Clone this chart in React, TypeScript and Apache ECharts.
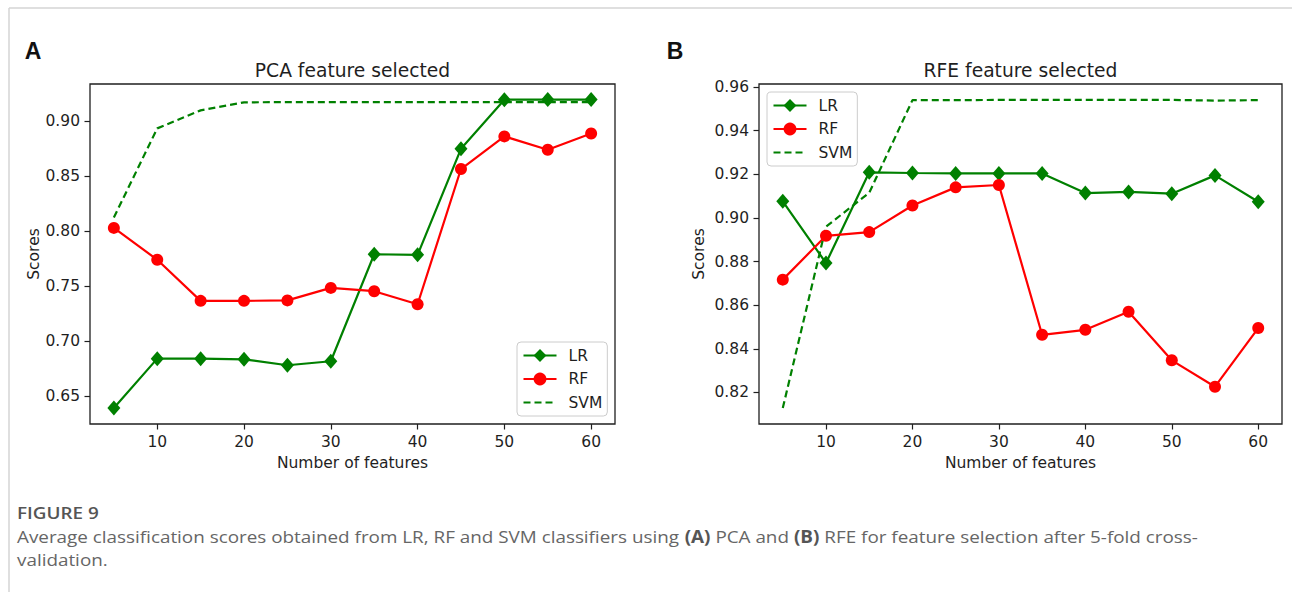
import React, { useEffect, useRef } from "react";
import * as echarts from "echarts";

const features = [5, 10, 15, 20, 25, 30, 35, 40, 45, 50, 55, 60];

const pcaLR = [0.639, 0.684, 0.684, 0.6834, 0.678, 0.6816, 0.779, 0.7785, 0.875, 0.9197, 0.9198, 0.9198];
const pcaRF = [0.803, 0.774, 0.7366, 0.7366, 0.737, 0.7484, 0.7454, 0.7335, 0.8566, 0.8863, 0.8742, 0.889];
const pcaSVM = [0.8125, 0.8936, 0.910, 0.9173, 0.9175, 0.9175, 0.9175, 0.9175, 0.9175, 0.9175, 0.9175, 0.9175];

const rfeLR = [0.9076, 0.8793, 0.9209, 0.9206, 0.9204, 0.9204, 0.9204, 0.9114, 0.9119, 0.9111, 0.9195, 0.9074];
const rfeRF = [0.8717, 0.8918, 0.8935, 0.9057, 0.914, 0.9151, 0.8464, 0.8487, 0.857, 0.8347, 0.8226, 0.8495];
const rfeSVM = [0.8128, 0.896, 0.9115, 0.954, 0.954, 0.9541, 0.9541, 0.9541, 0.9541, 0.9541, 0.9538, 0.954];

const xTicks = [10, 20, 30, 40, 50, 60];
const pcaYTicks = [0.65, 0.7, 0.75, 0.8, 0.85, 0.9];
const rfeYTicks = [0.82, 0.84, 0.86, 0.88, 0.9, 0.92, 0.94, 0.96];

const seriesNames = ["LR", "RF", "SVM"];
const panelTitles = ["PCA feature selected", "RFE feature selected"];
const xName = "Number of features";
const yName = "Scores";
const captionHead = "FIGURE 9";
const captionLine1 =
  "Average classification scores obtained from LR, RF and SVM classifiers using {b|(A)} PCA and {b|(B)} RFE for feature selection after 5-fold cross-";
const captionLine2 = "validation.";

const GREEN = "#008000";
const RED = "#ff0000";
const INK = "#1f1f1f";
const FONT = "DejaVu Sans";
const FS = 15.5;
const CAP_FS = 17;
const CAP_SX = 1.11;

function pairs(vals: number[]) {
  return features.map((x, i) => [x, vals[i]]);
}

function makeSeries(gi: number, lr: number[], rf: number[], svm: number[]) {
  return [
    {
      name: "LR",
      type: "line",
      xAxisIndex: gi,
      yAxisIndex: gi,
      data: pairs(lr),
      symbol: "diamond",
      symbolSize: [13, 15],
      itemStyle: { color: GREEN },
      lineStyle: { color: GREEN, width: 2.2 },
    },
    {
      name: "RF",
      type: "line",
      xAxisIndex: gi,
      yAxisIndex: gi,
      data: pairs(rf),
      symbol: "circle",
      symbolSize: 12,
      itemStyle: { color: RED },
      lineStyle: { color: RED, width: 2.2 },
    },
    {
      name: "SVM",
      type: "line",
      xAxisIndex: gi,
      yAxisIndex: gi,
      data: pairs(svm),
      symbol: "none",
      itemStyle: { color: GREEN },
      lineStyle: { color: GREEN, width: 2.2, type: [7, 4] },
    },
  ];
}

function makeX(gi: number) {
  return {
    type: "value",
    gridIndex: gi,
    min: 2.25,
    max: 62.75,
    axisLine: { show: false },
    axisTick: { show: true, length: 5.5, customValues: xTicks, lineStyle: { color: INK, width: 1.2 } },
    axisLabel: { customValues: xTicks, fontSize: FS, fontFamily: FONT, color: INK, margin: 10 },
    splitLine: { show: false },
    name: xName,
    nameLocation: "middle",
    nameGap: 31,
    nameTextStyle: { fontSize: FS, fontFamily: FONT, color: INK },
  };
}

function makeY(gi: number, min: number, max: number, ticks: number[], gap: number) {
  return {
    type: "value",
    gridIndex: gi,
    min,
    max,
    axisLine: { show: false },
    axisTick: { show: true, length: 5.5, customValues: ticks, lineStyle: { color: INK, width: 1.2 } },
    axisLabel: {
      customValues: ticks,
      fontSize: FS,
      fontFamily: FONT,
      color: INK,
      margin: 10,
      formatter: (v: number) => v.toFixed(2),
    },
    splitLine: { show: false },
    name: yName,
    nameLocation: "middle",
    nameGap: gap,
    nameTextStyle: { fontSize: FS, fontFamily: FONT, color: INK },
  };
}

function makeLegend(left: number, top: number) {
  return {
    data: [
      { name: seriesNames[0] },
      { name: seriesNames[1] },
      { name: seriesNames[2], itemStyle: { opacity: 0 } },
    ],
    orient: "vertical",
    left,
    top,
    itemWidth: 33,
    itemHeight: 16,
    itemGap: 7.5,
    padding: [5.5, 5, 5.5, 5.5],
    backgroundColor: "rgba(255,255,255,0.8)",
    borderColor: "#cccccc",
    borderWidth: 1,
    borderRadius: 4,
    selectedMode: false,
    textStyle: { fontSize: FS, fontFamily: FONT, color: INK, lineHeight: 16, padding: [0, 0, 0, 7] },
  };
}

export default function App() {
  const ref = useRef<HTMLDivElement>(null);
  useEffect(() => {
    document.body.style.margin = "0";
    const chart = echarts.init(ref.current!, null, { renderer: "svg" });
    const option: any = {
      animation: false,
      backgroundColor: "#ffffff",
      grid: [
        { left: 90, top: 84, width: 525, height: 340, show: true, borderColor: INK, borderWidth: 1.3, backgroundColor: "transparent" },
        { left: 759, top: 84, width: 523, height: 340, show: true, borderColor: INK, borderWidth: 1.3, backgroundColor: "transparent" },
      ],
      xAxis: [makeX(0), makeX(1)],
      yAxis: [makeY(0, 0.6245, 0.934, pcaYTicks, 41), makeY(1, 0.8055, 0.9614, rfeYTicks, 52)],
      legend: [makeLegend(517, 342), makeLegend(767, 92)],
      series: [...makeSeries(0, pcaLR, pcaRF, pcaSVM), ...makeSeries(1, rfeLR, rfeRF, rfeSVM)],
      graphic: [
        { type: "line", shape: { x1: 9, y1: 8, x2: 1292, y2: 8 }, style: { stroke: "#d4d4d4", lineWidth: 1.5 } },
        { type: "line", shape: { x1: 9, y1: 8, x2: 9, y2: 592 }, style: { stroke: "#d4d4d4", lineWidth: 1.5 } },
        {
          type: "text", x: 33, y: 51,
          style: { text: "A", fontSize: 23, fontWeight: "bold", fontFamily: "Liberation Sans", fill: "#111", align: "center", verticalAlign: "middle" },
        },
        {
          type: "text", x: 675, y: 51,
          style: { text: "B", fontSize: 23, fontWeight: "bold", fontFamily: "Liberation Sans", fill: "#111", align: "center", verticalAlign: "middle" },
        },
        {
          type: "text", x: 352.5, y: 70,
          style: { text: panelTitles[0], fontSize: 18.7, fontFamily: FONT, fill: INK, align: "center", verticalAlign: "middle" },
        },
        {
          type: "text", x: 1020.5, y: 70,
          style: { text: panelTitles[1], fontSize: 18.7, fontFamily: FONT, fill: INK, align: "center", verticalAlign: "middle" },
        },
        {
          type: "text", x: 17, y: 512, scaleX: CAP_SX,
          style: { text: captionHead, fontSize: CAP_FS, fontWeight: 600, fontFamily: "Open Sans", fill: "#555", align: "left", verticalAlign: "middle" },
        },
        {
          type: "text", x: 17, y: 536, scaleX: CAP_SX,
          style: {
            text: captionLine1, fontSize: CAP_FS, fontFamily: "Open Sans", fill: "#666", align: "left", verticalAlign: "middle",
            rich: { b: { fontWeight: "bold", fontSize: CAP_FS, fontFamily: "Open Sans", fill: "#555" } },
          },
        },
        {
          type: "text", x: 17, y: 559, scaleX: CAP_SX,
          style: { text: captionLine2, fontSize: CAP_FS, fontFamily: "Open Sans", fill: "#666", align: "left", verticalAlign: "middle" },
        },
      ],
    };
    chart.setOption(option);
    return () => chart.dispose();
  }, []);
  return <div ref={ref} style={{ width: 1292, height: 592 }} />;
}
